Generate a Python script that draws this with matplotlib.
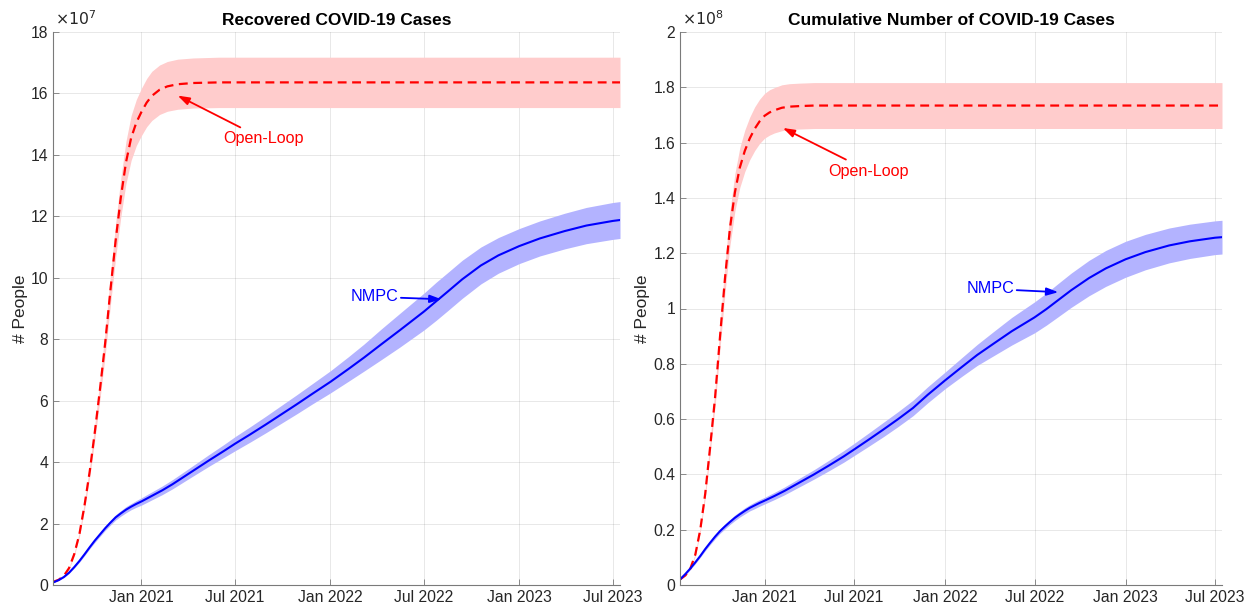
import numpy as np
import pandas as pd
import matplotlib
matplotlib.use("Agg")
import matplotlib.pyplot as plt
import matplotlib.dates as mdates

plt.rcParams['font.family'] = ['Liberation Sans', 'DejaVu Sans']

# ---------- data (days counted from 2021-01-01) ----------
base = pd.Timestamp("2021-01-01")
x_start = pd.Timestamp("2020-07-14")
x_end = pd.Timestamp("2023-07-15")

# open-loop (red)
ol_days = [-171, -160, -150, -140, -130, -120, -110, -100, -90, -80, -70, -60, -50,
           -40, -30, -20, -10, 0, 10, 20, 35, 50, 70, 100, 150, 925]
ol_rec = [0.10, 0.17, 0.30, 0.55, 1.0, 1.65, 2.6, 3.7, 5.0, 6.4, 7.9, 9.6, 11.2,
          12.6, 13.75, 14.55, 15.05, 15.4, 15.7, 15.92, 16.12, 16.23, 16.3, 16.34, 16.36, 16.36]   # x1e7
ol_rec_spread = [0.005, 0.009, 0.015, 0.028, 0.05, 0.083, 0.13, 0.185, 0.25, 0.32, 0.395, 0.48, 0.56,
                 0.63, 0.69, 0.73, 0.75, 0.77, 0.785, 0.8, 0.805, 0.81, 0.815, 0.815, 0.82, 0.82]
ol_cum = [0.02, 0.035, 0.06, 0.11, 0.2, 0.33, 0.5, 0.68, 0.9, 1.11, 1.29, 1.42, 1.51,
          1.57, 1.615, 1.65, 1.677, 1.697, 1.709, 1.717, 1.726, 1.73, 1.732, 1.734, 1.734, 1.734]  # x1e8
ol_cum_spread = [0.001, 0.002, 0.003, 0.005, 0.01, 0.016, 0.024, 0.033, 0.043, 0.053, 0.062, 0.068, 0.072,
                 0.075, 0.077, 0.079, 0.08, 0.081, 0.082, 0.082, 0.083, 0.083, 0.083, 0.083, 0.083, 0.083]

# NMPC (blue)
nmpc_days = [-171, -160, -150, -140, -130, -120, -110, -100, -90, -80,
             -70, -60, -50, -40, -30, -20, -10, 0,
             20, 40, 60, 80, 100,
             130, 160, 181, 210, 240, 270, 300, 330, 365,
             400, 430, 464, 500, 546, 570, 592, 620, 656,
             690, 730, 770, 818, 860, 911, 925]
nmpc_rec = [0.08, 0.16, 0.26, 0.40, 0.58, 0.78, 1.0, 1.23, 1.45, 1.65,
            1.85, 2.03, 2.2, 2.33, 2.45, 2.55, 2.64, 2.72,
            2.9, 3.08, 3.28, 3.5, 3.72,
            4.05, 4.37, 4.6, 4.9, 5.22, 5.55, 5.88, 6.22, 6.61,
            7.03, 7.4, 7.84, 8.3, 8.9, 9.24, 9.55, 9.95, 10.4,
            10.73, 11.03, 11.28, 11.52, 11.7, 11.85, 11.88]
nmpc_rec_spread = [0.01, 0.015, 0.02, 0.025, 0.03, 0.04, 0.045, 0.05, 0.06, 0.065,
                   0.07, 0.08, 0.085, 0.09, 0.1, 0.1, 0.11, 0.12,
                   0.13, 0.14, 0.15, 0.16, 0.17,
                   0.19, 0.21, 0.23, 0.25, 0.27, 0.29, 0.31, 0.33, 0.36,
                   0.4, 0.44, 0.5, 0.55, 0.6, 0.62, 0.62, 0.62, 0.6,
                   0.58, 0.57, 0.57, 0.58, 0.59, 0.6, 0.6]
nmpc_cum = [0.02, 0.04, 0.06, 0.082, 0.105, 0.13, 0.153, 0.175, 0.195, 0.212,
            0.228, 0.243, 0.256, 0.268, 0.279, 0.288, 0.297, 0.305,
            0.322, 0.34, 0.36, 0.38, 0.40,
            0.432, 0.465, 0.49, 0.525, 0.562, 0.6, 0.64, 0.688, 0.74,
            0.79, 0.832, 0.874, 0.918, 0.968, 0.998, 1.028, 1.066, 1.11,
            1.145, 1.178, 1.204, 1.228, 1.243, 1.256, 1.258]
nmpc_cum_spread = [0.002, 0.003, 0.004, 0.005, 0.005, 0.006, 0.007, 0.008, 0.008, 0.009,
                   0.009, 0.01, 0.01, 0.011, 0.011, 0.012, 0.012, 0.012,
                   0.013, 0.014, 0.015, 0.016, 0.017,
                   0.019, 0.021, 0.022, 0.024, 0.026, 0.027, 0.028, 0.029, 0.03,
                   0.034, 0.038, 0.044, 0.05, 0.056, 0.058, 0.06, 0.062, 0.064,
                   0.065, 0.065, 0.064, 0.063, 0.062, 0.061, 0.061]

panels = [
    dict(title="Recovered COVID-19 Cases", ol=ol_rec, ol_s=ol_rec_spread,
         nm=nmpc_rec, nm_s=nmpc_rec_spread, ymax=18, yticks=list(range(0, 19, 2)),
         ylabels=[str(v) for v in range(0, 19, 2)], exp="7",
         nmpc_txt=(450, 9.38), nmpc_tip=(580, 9.3),
         ol_txt=(235, 14.52), ol_tip=(70, 15.93)),
    dict(title="Cumulative Number of COVID-19 Cases", ol=ol_cum, ol_s=ol_cum_spread,
         nm=nmpc_cum, nm_s=nmpc_cum_spread, ymax=2, yticks=[i / 5 for i in range(11)],
         ylabels=["0", "0.2", "0.4", "0.6", "0.8", "1", "1.2", "1.4", "1.6", "1.8", "2"], exp="8",
         nmpc_txt=(456, 1.071), nmpc_tip=(594, 1.059),
         ol_txt=(211, 1.497), ol_tip=(37, 1.653)),
]
axes_pos = [[53 / 1253, 29 / 614, 567 / 1253, 553 / 614],
            [680 / 1253, 29 / 614, 542 / 1253, 553 / 614]]

ol_dates = base + pd.to_timedelta(ol_days, unit="D")
nm_dates = base + pd.to_timedelta(nmpc_days, unit="D")

def day(d):
    return base + pd.Timedelta(days=d)

fig = plt.figure(figsize=(12.53, 6.14), dpi=100)
axc = '#262626'

for p, pos in zip(panels, axes_pos):
    ax = fig.add_axes(pos)
    ol = np.array(p['ol']); ols = np.array(p['ol_s'])
    nm = np.array(p['nm']); nms = np.array(p['nm_s'])
    ax.fill_between(ol_dates, ol - ols, ol + ols, color=(1, 0.8, 0.8), lw=0)
    ax.fill_between(nm_dates, nm - nms, nm + nms, color=(0.7, 0.7, 1.0), lw=0)
    ax.plot(ol_dates, ol, color='red', ls='--', lw=1.6, dashes=(4, 2.5))
    ax.plot(nm_dates, nm, color='blue', lw=1.5)

    ax.set_xlim(x_start, x_end)
    ax.set_ylim(0, p['ymax'])
    ax.set_yticks(p['yticks'])
    ax.set_yticklabels(p['ylabels'])
    ax.xaxis.set_major_locator(mdates.MonthLocator(bymonth=[1, 7]))
    ax.xaxis.set_major_formatter(mdates.DateFormatter('%b %Y'))
    ax.grid(True, color='#262626', alpha=0.12, lw=0.6)
    ax.set_axisbelow(True)
    for s in ['top', 'right']:
        ax.spines[s].set_visible(False)
    for s in ['left', 'bottom']:
        ax.spines[s].set_color('#7a7a7a')
        ax.spines[s].set_linewidth(0.8)
    ax.tick_params(direction='in', length=4, width=0.6, color='#7a7a7a',
                   labelsize=11.3, labelcolor=axc)
    ax.set_ylabel('# People', fontsize=12.5, color=axc, labelpad=2)
    ax.set_title(p['title'], fontsize=12.5, fontweight='bold', pad=5)
    ax.text(0.003, 1.008, r'$\times10^{%s}$' % p['exp'], transform=ax.transAxes,
            fontsize=11.3, color=axc, ha='left', va='bottom')

    ax.annotate('NMPC', xy=(day(p['nmpc_tip'][0]), p['nmpc_tip'][1]),
                xytext=(day(p['nmpc_txt'][0]), p['nmpc_txt'][1]),
                color='blue', fontsize=11.6, ha='center', va='center',
                arrowprops=dict(arrowstyle='-|>,head_length=0.6,head_width=0.2',
                                color='blue', lw=1.3, shrinkA=0, shrinkB=0))
    ax.annotate('Open-Loop', xy=(day(p['ol_tip'][0]), p['ol_tip'][1]),
                xytext=(day(p['ol_txt'][0]), p['ol_txt'][1]),
                color='red', fontsize=11.6, ha='center', va='center',
                arrowprops=dict(arrowstyle='-|>,head_length=0.6,head_width=0.2',
                                color='red', lw=1.3, shrinkA=2, shrinkB=0))

fig.savefig('out.png', dpi=100)
